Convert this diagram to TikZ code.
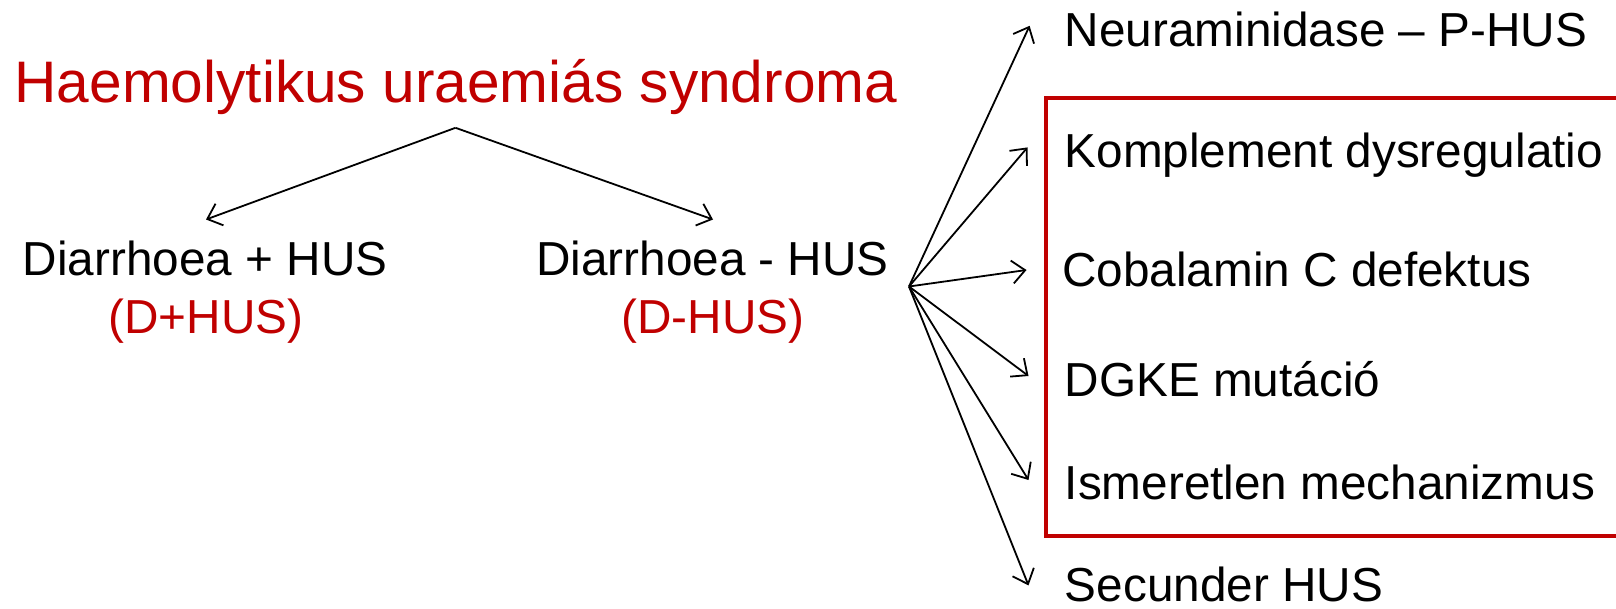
\documentclass[tikz,border=0pt]{standalone}
\usepackage{fontspec}
\setmainfont{Liberation Sans}
\usetikzlibrary{arrows.meta}
\definecolor{hred}{HTML}{C00000}
\begin{document}
\begin{tikzpicture}[x=1pt,y=-1pt,
  txt/.style={inner sep=0pt,anchor=base west,font=\fontsize{47.7}{50}\selectfont},
  redtxt/.style={inner sep=0pt,anchor=base,text=hred,font=\fontsize{47.7}{50}\selectfont},
  title/.style={inner sep=0pt,anchor=base west,text=hred,font=\fontsize{58.6}{60}\selectfont},
  arr/.style={line width=1.8pt,-{Straight Barb[length=13pt,width=23pt,line width=1.8pt]}},
  redbox/.style={draw=hred,line width=4pt}]
\useasboundingbox (0,0) rectangle (1616,609);
\fill[white] (0,0) rectangle (1616,609);

\node[title] (t) at (14.4,103) {Haemolytikus uraemiás syndroma};
\node[txt] (dp) at (22.7,276) {Diarrhoea + HUS};
\node[redtxt] (dpa) at (206,334) {(D+HUS)};
\node[txt] (dm) at (536,276) {Diarrhoea - HUS};
\node[redtxt] (dma) at (713,334) {(D-HUS)};

\node[txt] (n1) at (1064.6,46.4) {Neuraminidase – P-HUS};
\node[txt] (n2) at (1064.6,168) {Komplement dysregulatio};
\node[txt] (n3) at (1062,286.5) {Cobalamin C defektus};
\node[txt] (n4) at (1064.6,396) {DGKE mutáció};
\node[txt] (n5) at (1064.6,499) {Ismeretlen mechanizmus};
\node[txt] (n6) at (1064.6,601) {Secunder HUS};

\draw[redbox] (1616,98) -- (1046,98) -- (1046,536) -- (1616,536);

\coordinate (apex) at (455.5,127.8);
\coordinate (el) at (206,219.5);
\coordinate (er) at (713,219.5);
\draw[arr] (apex) -- (el);
\draw[arr] (apex) -- (er);

\coordinate (fan) at (909,286.5);
\coordinate (e1) at (1029.6,25.8);
\coordinate (e2) at (1027.5,147.4);
\coordinate (e3) at (1026.5,270);
\coordinate (e4) at (1028.5,376);
\coordinate (e5) at (1028.5,480);
\coordinate (e6) at (1028.5,585.4);
\foreach \e in {e1,e2,e3,e4,e5,e6}{\draw[arr] (fan) -- (\e);}
\end{tikzpicture}
\end{document}
